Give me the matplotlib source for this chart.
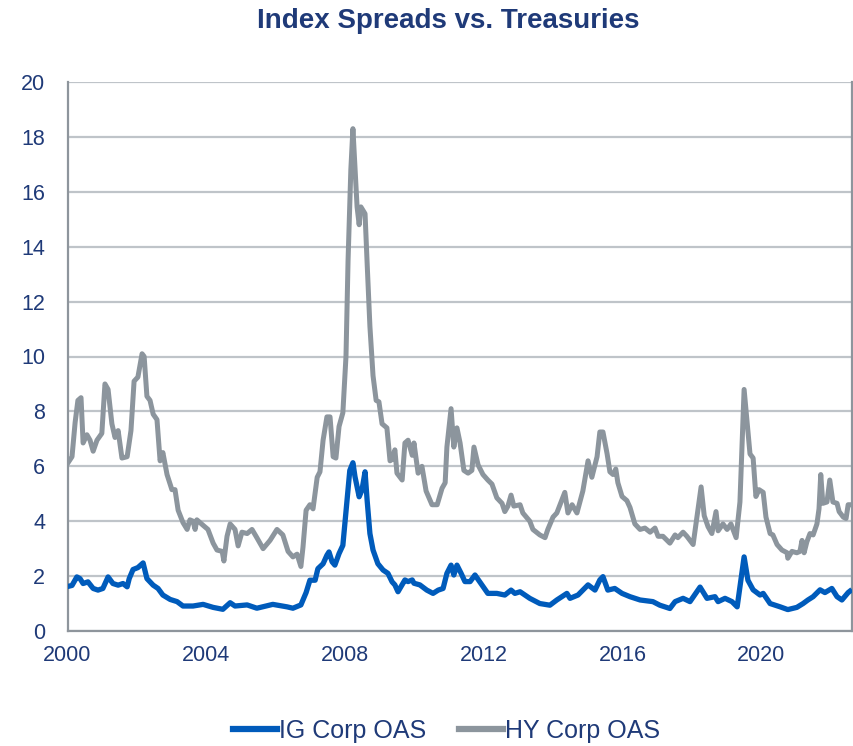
import matplotlib
matplotlib.use("Agg")
import matplotlib.pyplot as plt

# ---- data (decimal years, spread in %) ----
hy_years = [2000.00, 2000.13, 2000.22, 2000.30, 2000.39, 2000.45, 2000.56, 2000.65, 2000.74, 2000.85,
            2000.99, 2001.08, 2001.17, 2001.28, 2001.37, 2001.46, 2001.57, 2001.72, 2001.83, 2001.92,
            2002.03, 2002.15, 2002.21, 2002.29, 2002.38, 2002.47, 2002.58, 2002.67, 2002.75, 2002.87,
            2003.01, 2003.10, 2003.19, 2003.33, 2003.45, 2003.53, 2003.62, 2003.68, 2003.73, 2003.91,
            2004.05, 2004.20, 2004.31, 2004.46, 2004.51, 2004.60, 2004.69, 2004.83, 2004.92, 2005.03,
            2005.18, 2005.32, 2005.46, 2005.64, 2005.84, 2006.04, 2006.21, 2006.36, 2006.50, 2006.62,
            2006.73, 2006.79, 2006.88, 2006.99, 2007.08, 2007.20, 2007.28, 2007.37, 2007.48, 2007.57,
            2007.66, 2007.74, 2007.83, 2007.94, 2008.03, 2008.09, 2008.17, 2008.23, 2008.29, 2008.35,
            2008.41, 2008.46, 2008.58, 2008.64, 2008.72, 2008.81, 2008.90, 2008.98, 2009.07, 2009.21,
            2009.30, 2009.36, 2009.44, 2009.50, 2009.65, 2009.73, 2009.82, 2009.94, 2009.99, 2010.11,
            2010.22, 2010.34, 2010.51, 2010.66, 2010.80, 2010.89, 2010.94, 2011.06, 2011.14, 2011.23,
            2011.32, 2011.43, 2011.55, 2011.66, 2011.72, 2011.84, 2011.98, 2012.12, 2012.24, 2012.38,
            2012.53, 2012.61, 2012.70, 2012.79, 2012.87, 2013.05, 2013.13, 2013.33, 2013.42, 2013.62,
            2013.77, 2013.85, 2014.00, 2014.11, 2014.34, 2014.43, 2014.55, 2014.69, 2014.86, 2015.01,
            2015.12, 2015.27, 2015.35, 2015.44, 2015.56, 2015.64, 2015.73, 2015.81, 2015.87, 2015.99,
            2016.13, 2016.22, 2016.36, 2016.51, 2016.65, 2016.80, 2016.94, 2017.03, 2017.17, 2017.37,
            2017.52, 2017.60, 2017.75, 2017.86, 2018.04, 2018.15, 2018.27, 2018.36, 2018.47, 2018.58,
            2018.70, 2018.76, 2018.90, 2019.02, 2019.13, 2019.28, 2019.39, 2019.51, 2019.59, 2019.68,
            2019.77, 2019.85, 2019.94, 2020.06, 2020.14, 2020.26, 2020.34, 2020.46, 2020.60, 2020.75,
            2020.77, 2020.89, 2021.03, 2021.12, 2021.18, 2021.24, 2021.32, 2021.41, 2021.50, 2021.61,
            2021.67, 2021.72, 2021.78, 2021.90, 2021.98, 2022.07, 2022.19, 2022.25, 2022.37, 2022.45,
            2022.51, 2022.56]
hy_oas = [6.10, 6.35, 7.60, 8.40, 8.50, 6.85, 7.15, 6.95, 6.55, 6.95,
          7.20, 9.00, 8.80, 7.55, 7.05, 7.30, 6.30, 6.35, 7.30, 9.10,
          9.25, 10.10, 10.00, 8.55, 8.40, 7.90, 7.70, 6.20, 6.50, 5.70,
          5.15, 5.15, 4.40, 3.95, 3.70, 4.05, 4.00, 3.70, 4.05, 3.85,
          3.70, 3.20, 2.95, 2.90, 2.55, 3.45, 3.90, 3.70, 3.10, 3.60,
          3.55, 3.70, 3.40, 3.00, 3.30, 3.70, 3.50, 2.90, 2.70, 2.80,
          2.35, 3.05, 4.40, 4.60, 4.45, 5.60, 5.80, 6.95, 7.80, 7.80,
          6.35, 6.30, 7.45, 7.95, 10.00, 13.50, 16.80, 18.30, 16.85, 15.45,
          14.80, 15.45, 15.20, 13.40, 11.10, 9.30, 8.40, 8.35, 7.55, 7.40,
          6.20, 6.25, 6.60, 5.75, 5.50, 6.85, 6.95, 6.40, 6.85, 5.75,
          6.00, 5.10, 4.60, 4.60, 5.20, 5.40, 6.70, 8.10, 6.70, 7.40,
          6.85, 5.85, 5.75, 5.85, 6.70, 6.05, 5.70, 5.50, 5.35, 4.85,
          4.65, 4.35, 4.55, 4.95, 4.55, 4.60, 4.30, 4.00, 3.70, 3.50,
          3.40, 3.70, 4.15, 4.30, 5.05, 4.30, 4.60, 4.30, 5.10, 6.20,
          5.60, 6.35, 7.25, 7.25, 6.45, 5.80, 5.70, 5.90, 5.40, 4.90,
          4.75, 4.50, 3.90, 3.70, 3.75, 3.60, 3.75, 3.45, 3.45, 3.20,
          3.50, 3.40, 3.60, 3.45, 3.15, 4.15, 5.25, 4.20, 3.80, 3.55,
          4.35, 3.65, 3.90, 3.70, 3.90, 3.40, 4.70, 8.80, 7.70, 6.45,
          6.30, 4.90, 5.15, 5.05, 4.15, 3.55, 3.50, 3.15, 2.95, 2.85,
          2.65, 2.90, 2.85, 2.90, 3.30, 2.85, 3.25, 3.55, 3.50, 3.90,
          4.45, 5.70, 4.65, 4.70, 5.50, 4.70, 4.65, 4.35, 4.15, 4.10,
          4.60, 4.60]

ig_years = [2000.00, 2000.13, 2000.27, 2000.36, 2000.45, 2000.59, 2000.74, 2000.88, 2001.02, 2001.17,
            2001.31, 2001.46, 2001.60, 2001.72, 2001.78, 2001.89, 2002.03, 2002.18, 2002.29, 2002.47,
            2002.61, 2002.75, 2002.96, 2003.16, 2003.33, 2003.53, 2003.62, 2003.91, 2004.20, 2004.48,
            2004.69, 2004.83, 2005.18, 2005.46, 2005.92, 2006.33, 2006.50, 2006.73, 2006.88, 2006.99,
            2007.14, 2007.22, 2007.37, 2007.48, 2007.54, 2007.63, 2007.71, 2007.83, 2007.94, 2008.06,
            2008.14, 2008.23, 2008.29, 2008.41, 2008.49, 2008.58, 2008.64, 2008.72, 2008.81, 2008.95,
            2009.10, 2009.24, 2009.36, 2009.44, 2009.53, 2009.73, 2009.82, 2009.94, 2009.99, 2010.16,
            2010.36, 2010.54, 2010.69, 2010.83, 2010.94, 2011.06, 2011.14, 2011.23, 2011.35, 2011.46,
            2011.61, 2011.75, 2011.95, 2012.12, 2012.38, 2012.61, 2012.79, 2012.90, 2013.05, 2013.33,
            2013.62, 2013.91, 2014.11, 2014.40, 2014.49, 2014.72, 2014.86, 2015.01, 2015.21, 2015.35,
            2015.44, 2015.58, 2015.78, 2015.99, 2016.22, 2016.51, 2016.88, 2017.08, 2017.37, 2017.52,
            2017.75, 2017.95, 2018.24, 2018.44, 2018.67, 2018.76, 2018.96, 2019.16, 2019.31, 2019.51,
            2019.62, 2019.77, 2019.97, 2020.06, 2020.26, 2020.55, 2020.77, 2021.03, 2021.21, 2021.35,
            2021.50, 2021.70, 2021.84, 2022.04, 2022.19, 2022.33, 2022.51, 2022.56]
ig_oas = [1.62, 1.66, 1.97, 1.91, 1.73, 1.79, 1.55, 1.49, 1.55, 1.97,
          1.73, 1.67, 1.73, 1.61, 1.91, 2.24, 2.31, 2.48, 1.91, 1.67,
          1.55, 1.31, 1.15, 1.07, 0.91, 0.91, 0.91, 0.97, 0.86, 0.79,
          1.03, 0.91, 0.95, 0.83, 0.97, 0.88, 0.83, 0.95, 1.40, 1.85,
          1.85, 2.27, 2.45, 2.76, 2.88, 2.52, 2.40, 2.82, 3.12, 4.76,
          5.85, 6.13, 5.62, 4.89, 5.13, 5.80, 4.76, 3.55, 2.95, 2.45,
          2.22, 2.10, 1.79, 1.68, 1.43, 1.86, 1.80, 1.86, 1.74, 1.68,
          1.49, 1.37, 1.49, 1.55, 2.10, 2.40, 2.04, 2.40, 2.10, 1.80,
          1.80, 2.04, 1.68, 1.37, 1.37, 1.31, 1.49, 1.37, 1.43, 1.19,
          1.00, 0.94, 1.13, 1.37, 1.19, 1.31, 1.49, 1.68, 1.49, 1.86,
          1.98, 1.49, 1.55, 1.37, 1.25, 1.13, 1.07, 0.94, 0.82, 1.07,
          1.19, 1.07, 1.60, 1.19, 1.25, 1.07, 1.19, 1.07, 0.88, 2.70,
          1.85, 1.50, 1.31, 1.37, 1.00, 0.88, 0.78, 0.86, 1.00, 1.13,
          1.25, 1.50, 1.40, 1.55, 1.25, 1.13, 1.40, 1.45]

x_ticks = [2000, 2004, 2008, 2012, 2016, 2020]
y_ticks = [0, 2, 4, 6, 8, 10, 12, 14, 16, 18, 20]
title = "Index Spreads vs. Treasuries"
labels = ["IG Corp OAS", "HY Corp OAS"]

# ---- style ----
plt.rcParams['font.family'] = ['Liberation Sans', 'DejaVu Sans']
NAVY = "#1F3A78"
IG_C = "#005BBB"
HY_C = "#8C959D"
GRID_C = "#BFC4C9"
SPINE_C = "#8E959C"

fig = plt.figure(figsize=(8.54, 7.46), dpi=100)
ax = fig.add_axes([67.5/854, 1 - 631/746, (852 - 67.5)/854, (631 - 82)/746])

ax.plot(hy_years, hy_oas, color=HY_C, lw=3.6, solid_joinstyle='round', label=labels[1], zorder=3)
ax.plot(ig_years, ig_oas, color=IG_C, lw=3.8, solid_joinstyle='round', label=labels[0], zorder=4)

ax.set_xlim(2000, 2000 + (852 - 67.5) / 34.68)
ax.set_ylim(0, 20)
ax.set_xticks(x_ticks)
ax.set_xticklabels([str(t) for t in x_ticks])
ax.set_yticks(y_ticks)
ax.set_yticklabels([str(t) for t in y_ticks])
ax.tick_params(axis='both', length=0, labelsize=15.5, labelcolor=NAVY)
ax.tick_params(axis='y', pad=16)
ax.tick_params(axis='x', pad=10)

ax.yaxis.grid(True, color=GRID_C, lw=1.6)
ax.set_axisbelow(True)
for s in ['left', 'bottom', 'right']:
    ax.spines[s].set_color(SPINE_C)
    ax.spines[s].set_linewidth(1.6)
ax.spines['top'].set_visible(False)

fig.text(0.525, 1 - 21/746, title, ha='center', va='center', fontsize=20,
         fontweight='bold', color=NAVY)

h, l = ax.get_legend_handles_labels()
order = [1, 0]
leg = fig.legend([h[i] for i in order], [l[i] for i in order], loc='center',
                 bbox_to_anchor=(0.523, 1 - 731/746), ncol=2, frameon=False,
                 fontsize=18, handlelength=1.75, handletextpad=0.1, columnspacing=1.3,
                 labelcolor=NAVY, borderpad=0.0)
for line in leg.get_lines():
    line.set_linewidth(4.5)

fig.savefig("out.png", dpi=100)
